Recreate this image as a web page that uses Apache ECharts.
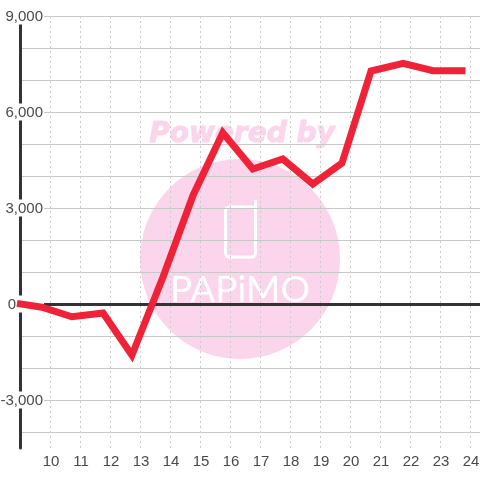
<!DOCTYPE html>
<html>
<head>
<meta charset="utf-8">
<script src="https://cdn.jsdelivr.net/npm/echarts@6/dist/echarts.min.js"></script>
<style>
html, body { margin: 0; padding: 0; background: #fff; }
#chart { width: 480px; height: 480px; }
</style>
</head>
<body>
<div id="chart"></div>
<script>
var hours = [8.9, 9.73, 10.73, 11.77, 12.73, 13.77, 14.77, 15.76, 16.76, 17.76, 18.76, 19.73, 20.7, 21.77, 22.77, 23.85];
var values = [20, -100, -400, -280, -1600, 850, 3400, 5350, 4220, 4530, 3750, 4400, 7280, 7520, 7290, 7290];
var gridValues = [-4000, -3000, -2000, -1000, 0, 1000, 2000, 3000, 4000, 5000, 6000, 7000, 8000, 9000];
var labelValues = [-3000, 0, 3000, 6000, 9000];

var chart = echarts.init(document.getElementById('chart'));
var font = 'Liberation Sans';
var pink = '#fbd5ec';

chart.setOption({
    animation: false,
    backgroundColor: '#fff',
    grid: { left: 20, right: 0, top: 16, bottom: 32, outerBoundsMode: 'none' },
    graphic: [
        { type: 'circle', z: -1, shape: { cx: 240, cy: 259, r: 100 }, style: { fill: pink } },
        { type: 'text', z: -1, x: 242, y: 135, style: {
            text: 'Powered by', fill: pink, stroke: pink, lineWidth: 1, align: 'center', verticalAlign: 'middle',
            font: 'italic bold 28px "DejaVu Sans"'
        } },
        // phone icon
        { type: 'rect', z: -1, shape: { x: 225.5, y: 207, width: 30, height: 50, r: 4 },
            style: { fill: 'none', stroke: '#fff', lineWidth: 3 } },
        { type: 'line', z: -1, shape: { x1: 255.5, y1: 210, x2: 255.5, y2: 201 },
            style: { stroke: '#fff', lineWidth: 3, lineCap: 'round' } },
        { type: 'text', z: -1, x: 240, y: 290, style: {
            text: 'PAPiMO', fill: '#fff', align: 'center', verticalAlign: 'middle',
            font: '37px Lato'
        } }
    ],
    xAxis: [
        {
            type: 'value', min: 9, max: 24.333, interval: 1,
            position: 'bottom',
            axisLine: { show: false, onZero: false },
            axisTick: { show: false },
            axisLabel: {
                margin: 6, color: '#4a4a4a', fontFamily: font, fontSize: 15,
                padding: [0, 0, 0, 2],
                showMinLabel: false, showMaxLabel: false
            },
            splitLine: { show: true, lineStyle: { color: '#ccc', type: [2, 3], width: 1 } }
        },
        {
            type: 'value', min: 9, max: 24.333, interval: 1,
            axisLine: { show: true, onZero: true, lineStyle: { color: '#333', width: 3 } },
            axisTick: { show: false },
            axisLabel: { show: false },
            splitLine: { show: false }
        }
    ],
    yAxis: {
        type: 'value', min: -4500, max: 9000,
        axisLine: { show: true, onZero: false, lineStyle: { color: '#333', width: 3 } },
        axisTick: { show: false, customValues: gridValues },
        axisLabel: {
            customValues: labelValues,
            margin: -24, color: '#4a4a4a', fontFamily: font, fontSize: 15,
            backgroundColor: '#fff', padding: [2, 1, 0, 2],
            formatter: function (v) {
                if (v === 0) return '{zero|0}';
                return echarts.format.addCommas(v);
            },
            rich: { zero: { color: '#4a4a4a', fontFamily: font, fontSize: 15, padding: [0, 27, 0, 0], backgroundColor: 'transparent' } }
        },
        splitLine: { show: true, lineStyle: { color: '#c8c8c8', width: 1 } }
    },
    series: [{
        type: 'line',
        xAxisIndex: 0,
        data: hours.map(function (h, i) { return [h, values[i]]; }),
        showSymbol: false,
        symbol: 'none',
        z: 5,
        clip: false,
        lineStyle: { color: '#f02238', width: 7, join: 'miter' }
    }]
});
</script>
</body>
</html>
